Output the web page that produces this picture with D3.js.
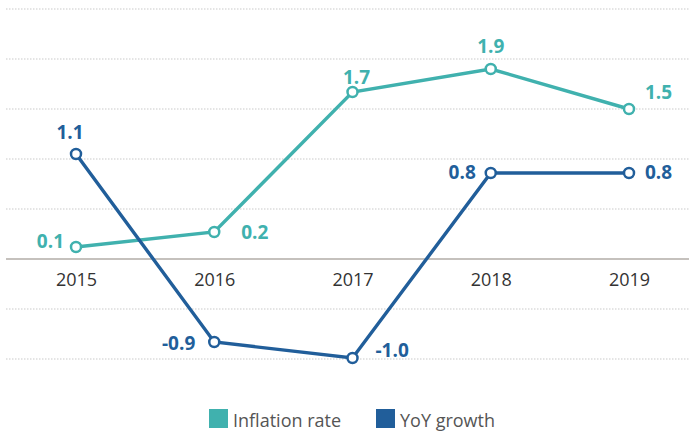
<!DOCTYPE html>
<html>
<head>
<meta charset="utf-8">
<script src="https://cdn.jsdelivr.net/npm/d3@7.9.0/dist/d3.min.js"></script>
<style>
  body { margin: 0; background: #fff; }
  svg { display: block; font-family: "Open Sans", Lato, sans-serif; }
</style>
</head>
<body>
<div id="chart"></div>
<script>
// chart data
const years = ["2015", "2016", "2017", "2018", "2019"];
const inflation = [0.12, 0.27, 1.67, 1.9, 1.5];
const inflationLabels = ["0.1", "0.2", "1.7", "1.9", "1.5"];
const growth = [1.05, -0.83, -0.99, 0.86, 0.86];
const growthLabels = ["1.1", "-0.9", "-1.0", "0.8", "0.8"];
const gridTicks = [-1, -0.5, 0.5, 1, 1.5, 2, 2.5];

const width = 689, height = 432;
const teal = "#40b1ae", blue = "#215e9a";

const svg = d3.select("#chart").append("svg")
    .attr("width", width)
    .attr("height", height);

const x = d3.scalePoint().domain(years).range([76, 629]);
const y = d3.scaleLinear().domain([-1, 2.5]).range([359, 9]);

// dotted gridlines
svg.append("g")
    .selectAll("line")
    .data(gridTicks)
    .join("line")
    .attr("x1", 6).attr("x2", width)
    .attr("y1", d => y(d)).attr("y2", d => y(d))
    .attr("stroke", "#c9c9c9")
    .attr("stroke-width", 1)
    .attr("stroke-dasharray", "1.5,1.5");

// zero line
svg.append("line")
    .attr("x1", 6).attr("x2", width)
    .attr("y1", y(0)).attr("y2", y(0))
    .attr("stroke", "#c5c1bd")
    .attr("stroke-width", 2);

// x axis labels
const xAxis = svg.append("g")
    .attr("transform", `translate(0, ${y(0)})`)
    .call(d3.axisBottom(x).tickSize(0).tickPadding(14));
xAxis.select(".domain").remove();
xAxis.selectAll("text")
    .attr("fill", "#333")
    .style("font-family", "'Open Sans', sans-serif")
    .style("font-size", "18px");

const line = d3.line()
    .x((d, i) => x(years[i]))
    .y(d => y(d));

function drawSeries(values, color) {
    svg.append("path")
        .datum(values)
        .attr("d", line)
        .attr("fill", "none")
        .attr("stroke", color)
        .attr("stroke-width", 3.4);

    svg.append("g")
        .selectAll("circle")
        .data(values)
        .join("circle")
        .attr("cx", (d, i) => x(years[i]))
        .attr("cy", d => y(d))
        .attr("r", 5)
        .attr("fill", "#fff")
        .attr("stroke", color)
        .attr("stroke-width", 2.5);
}

drawSeries(inflation, teal);
drawSeries(growth, blue);

// value labels: [dx, dy, anchor]
const inflationPos = [[-12, 1, "end"], [27, 7, "start"], [4, -8, "middle"], [0, -16, "middle"], [16, -10, "start"]];
const growthPos = [[-6, -15, "middle"], [-19, 8, "end"], [23, -1, "start"], [-15, 6, "end"], [16, 6, "start"]];

function drawLabels(values, labels, pos, color) {
    svg.append("g")
        .selectAll("text")
        .data(values)
        .join("text")
        .attr("x", (d, i) => x(years[i]) + pos[i][0])
        .attr("y", (d, i) => y(d) + pos[i][1])
        .attr("text-anchor", (d, i) => pos[i][2])
        .attr("fill", color)
        .style("font-size", "19px")
        .style("font-weight", "bold")
        .text((d, i) => labels[i]);
}

drawLabels(inflation, inflationLabels, inflationPos, teal);
drawLabels(growth, growthLabels, growthPos, blue);

// legend
const legendItems = [
    { name: "Inflation rate", color: teal, x: 209 },
    { name: "YoY growth", color: blue, x: 376 }
];
const legend = svg.append("g");
legend.selectAll("rect")
    .data(legendItems)
    .join("rect")
    .attr("x", d => d.x)
    .attr("y", 409)
    .attr("width", 19)
    .attr("height", 19)
    .attr("fill", d => d.color);
legend.selectAll("text")
    .data(legendItems)
    .join("text")
    .attr("x", d => d.x + 24)
    .attr("y", 427)
    .attr("fill", "#555")
    .style("font-size", "18px")
    .text(d => d.name);
</script>
</body>
</html>
